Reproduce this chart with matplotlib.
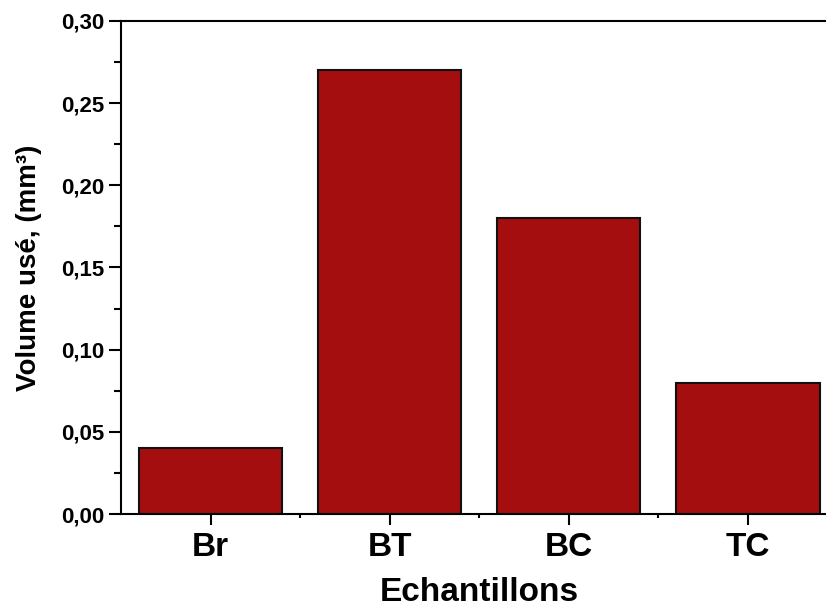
import matplotlib
matplotlib.use("Agg")
import matplotlib.pyplot as plt
from matplotlib.ticker import MultipleLocator, FixedLocator, FuncFormatter

categories = ["Br", "BT", "BC", "TC"]
values = [0.04, 0.27, 0.18, 0.08]

plt.rcParams['font.family'] = ['Liberation Sans', 'DejaVu Sans']
plt.rcParams['font.weight'] = 'bold'

fig = plt.figure(figsize=(8.26, 6.09), dpi=100)
ax = fig.add_axes([121/826, (609-514)/609, (837.5-121)/826, (514-21)/609])

x = list(range(len(categories)))
ax.bar(x, values, width=0.8, color='#A50E0E', edgecolor='#111111', linewidth=1.5, zorder=2)

ax.set_xlim(-0.5, 3.5)
ax.set_ylim(0, 0.30)

ax.set_xticks(x)
ax.set_xticklabels(categories, fontsize=24, fontweight='bold')
ax.xaxis.set_minor_locator(FixedLocator([0.5, 1.5, 2.5]))
ax.yaxis.set_major_locator(MultipleLocator(0.05))
ax.yaxis.set_minor_locator(MultipleLocator(0.025))
ax.yaxis.set_major_formatter(FuncFormatter(lambda v, p: f"{v:.2f}".replace('.', ',')))
ax.tick_params(axis='y', which='major', length=9, width=1.5, direction='out', labelsize=16, pad=3)
ax.tick_params(axis='y', which='minor', length=5, width=1.5, direction='out')
ax.tick_params(axis='x', which='major', length=8, width=1.5, direction='out', pad=5)
ax.tick_params(axis='x', which='minor', length=3, width=1.5, direction='out')
for lab in ax.get_yticklabels() + ax.get_xticklabels():
    lab.set_fontweight('bold')

for s in ax.spines.values():
    s.set_linewidth(1.5)

ax.set_xlabel("Echantillons", fontsize=24, fontweight='bold', labelpad=10)
ax.set_ylabel("Volume usé, (mm³)", fontsize=20, fontweight='bold', labelpad=14)

fig.savefig("out.png", dpi=100)
